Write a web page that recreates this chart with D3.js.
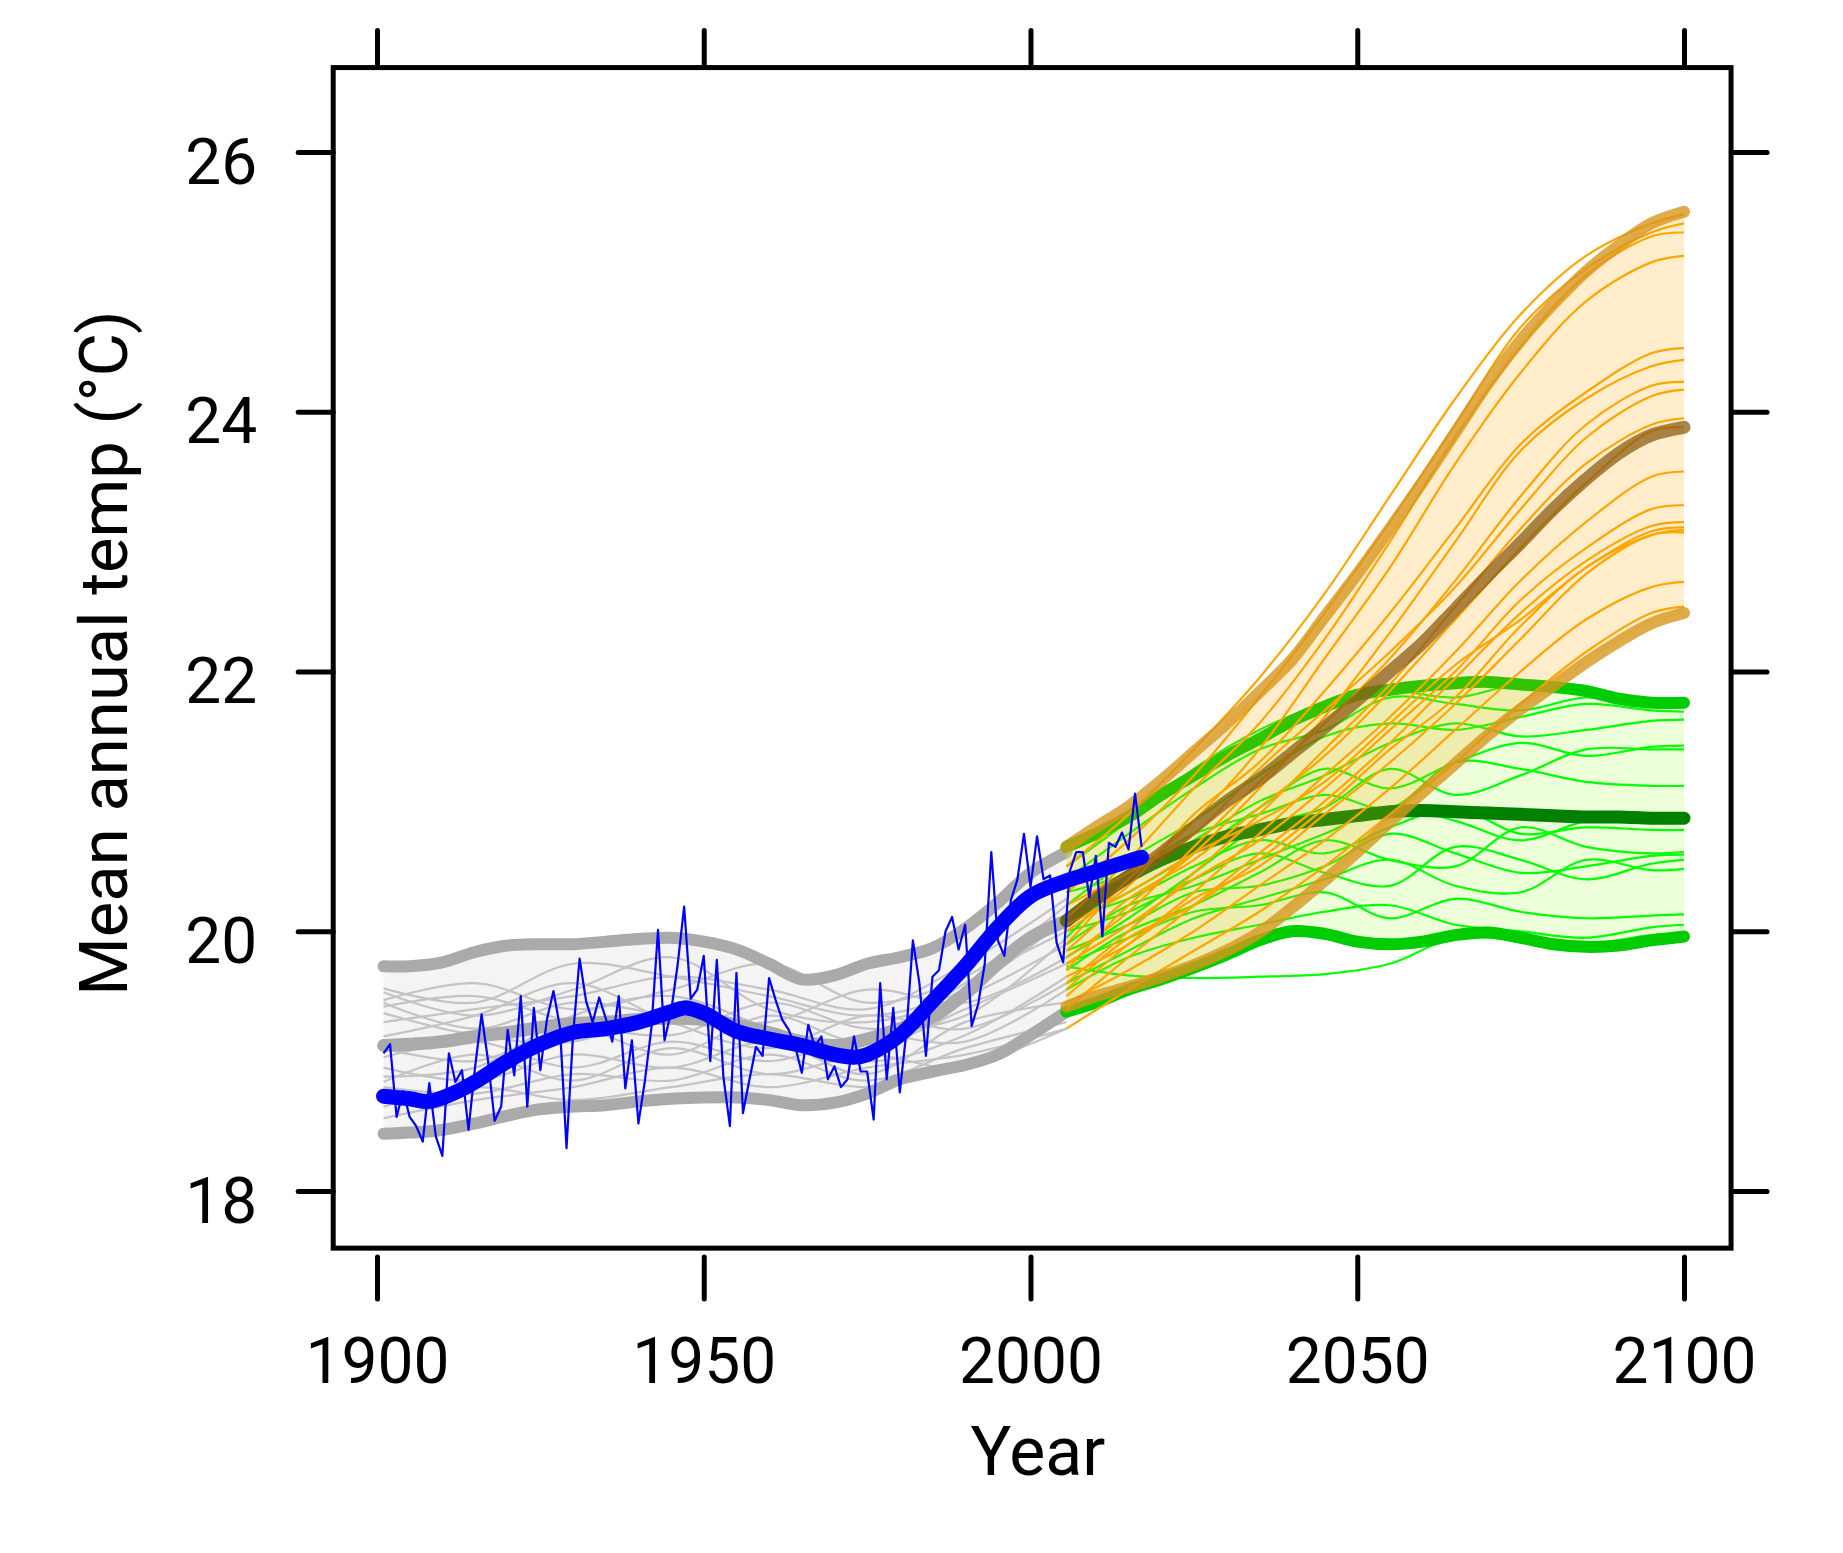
<!DOCTYPE html>
<html><head><meta charset="utf-8">
<script src="https://cdn.jsdelivr.net/npm/d3@7"></script>
<style>
body{margin:0;background:#fff}
svg{display:block}
text{font-family:Roboto,"Open Sans",sans-serif;fill:#000}
</style>
</head><body>
<svg id="chart" width="1843" height="1553"></svg>
<script>
// ---------- DATA ----------
const xTicks = [1900, 1950, 2000, 2050, 2100];
const yTicks = [18, 20, 22, 24, 26];
const xLabel = "Year";
const yLabel = "Mean annual temp (°C)";

// historical model envelope (grey)
const histYears = [1901,1905,1910,1915,1920,1925,1930,1935,1940,1945,1950,1955,1960,1965,1970,1975,1980,1985,1990,1995,2000,2005.5];
const greyUpper  = [19.73,19.73,19.76,19.84,19.89,19.90,19.90,19.92,19.94,19.95,19.92,19.86,19.75,19.63,19.66,19.75,19.80,19.87,20.02,20.22,20.45,20.61];
const greyMedian = [19.12,19.13,19.15,19.19,19.22,19.26,19.29,19.30,19.32,19.33,19.32,19.28,19.22,19.15,19.12,19.17,19.25,19.34,19.52,19.75,19.95,20.08];
const greyLower  = [18.44,18.45,18.47,18.52,18.58,18.63,18.65,18.66,18.69,18.71,18.72,18.72,18.70,18.66,18.68,18.75,18.86,18.92,18.97,19.05,19.20,19.38];

// individual historical model runs (thin grey)
const histRunYears = [1901,1915,1930,1945,1960,1975,1990,2005.5];
const greyRuns = [
  [19.56,19.45,19.75,19.65,19.50,19.35,19.55,20.10],
  [19.53,19.35,19.55,19.80,19.40,19.30,19.50,19.90],
  [19.47,19.60,19.40,19.55,19.75,19.45,19.65,20.20],
  [19.45,19.25,19.45,19.35,19.30,19.55,19.45,19.80],
  [19.42,19.50,19.30,19.20,19.45,19.25,19.35,19.95],
  [19.37,19.20,19.15,19.40,19.20,19.10,19.40,19.75],
  [19.19,19.35,19.60,19.30,19.10,19.35,19.25,19.60],
  [19.10,19.00,19.25,19.05,19.35,19.15,19.60,20.00],
  [19.03,19.15,18.95,19.15,19.00,19.20,19.15,19.55],
  [18.95,18.85,19.05,18.95,19.15,18.90,19.30,19.45],
  [18.84,19.05,18.85,19.10,18.90,19.05,18.95,19.35],
  [18.80,18.75,18.90,18.85,19.05,18.85,19.10,19.30],
  [18.56,18.70,18.80,18.95,18.80,18.95,19.05,19.25],
  [18.88,18.95,19.35,19.50,19.25,19.00,19.20,19.65],
  [19.30,19.40,19.50,19.65,19.55,19.40,19.75,20.25],
  [18.65,18.80,18.70,18.80,18.90,18.80,18.95,19.25]
];

// observations
const obsYears = d3.range(1901, 2018);
const obsTemp = [19.06,19.13,18.57,18.77,18.57,18.50,18.38,18.83,18.42,18.27,
  19.06,18.84,18.93,18.47,18.95,19.36,19.00,18.54,18.65,19.24,
  18.89,19.50,18.65,19.41,18.93,19.32,19.54,19.26,18.33,19.20,
  19.79,19.46,19.30,19.49,19.33,19.15,19.50,18.79,19.16,18.52,
  18.85,19.26,20.01,19.16,19.38,19.74,20.19,19.48,19.55,19.81,
  19.00,19.78,18.88,18.50,19.68,18.60,18.86,19.11,19.04,19.64,
  19.47,19.32,19.24,19.11,18.91,19.28,19.11,19.19,18.86,18.96,
  18.80,18.86,19.19,18.92,18.92,18.55,19.60,18.86,19.41,18.76,
  19.22,19.93,19.60,19.04,19.65,19.70,20.00,20.11,19.86,20.05,
  19.27,19.44,19.75,20.61,19.93,19.81,20.24,20.40,20.75,20.34,
  20.73,20.40,20.43,19.91,19.76,20.46,20.61,20.61,20.26,20.58,
  19.96,20.68,20.65,20.76,20.63,21.06,20.65];
const obsSmoothYears = [1901,1905,1908,1912,1915,1920,1925,1930,1935,1940,1945,1947,1950,1955,1960,1965,1970,1973,1975,1980,1985,1990,1995,2000,2005,2010,2015,2017];
const obsSmooth = [18.73,18.71,18.69,18.76,18.84,19.00,19.13,19.22,19.25,19.30,19.38,19.41,19.37,19.23,19.17,19.12,19.05,19.03,19.05,19.20,19.46,19.73,20.03,20.27,20.38,20.46,20.54,20.57];

// projections
const projYears = [2005.5,2010,2015,2020,2025,2030,2035,2040,2045,2050,2055,2060,2065,2070,2075,2080,2085,2090,2095,2100];
const rcp85Upper  = [20.65,20.80,20.96,21.16,21.38,21.60,21.84,22.09,22.42,22.75,23.10,23.46,23.84,24.22,24.55,24.83,25.08,25.28,25.45,25.54];
const rcp85Median = [20.08,20.25,20.42,20.60,20.80,21.00,21.17,21.37,21.57,21.78,22.00,22.22,22.48,22.74,22.99,23.25,23.48,23.68,23.82,23.88];
const rcp85Lower  = [19.42,19.50,19.57,19.65,19.74,19.85,19.99,20.18,20.39,20.61,20.84,21.07,21.29,21.51,21.71,21.89,22.07,22.23,22.37,22.45];
const rcp45Upper  = [20.65,20.75,20.88,21.05,21.20,21.35,21.48,21.62,21.73,21.82,21.86,21.89,21.91,21.92,21.90,21.88,21.85,21.79,21.76,21.76];
const rcp45Median = [20.08,20.25,20.42,20.55,20.65,20.73,20.78,20.83,20.86,20.89,20.92,20.93,20.92,20.91,20.90,20.89,20.88,20.88,20.87,20.87];
const rcp45Lower  = [19.38,19.45,19.55,19.63,19.72,19.82,19.93,20.00,19.98,19.92,19.90,19.92,19.97,19.99,19.95,19.90,19.88,19.89,19.93,19.96];

const projRunYears = [2005.5,2015,2025,2035,2045,2055,2065,2075,2085,2095,2100];
const rcp45Runs = [
  [20.40,20.75,21.10,21.40,21.55,21.80,21.75,21.70,21.80,21.75,21.73],
  [20.20,20.55,20.85,21.20,21.50,21.60,21.55,21.65,21.75,21.70,21.69],
  [19.95,20.40,20.70,21.00,21.20,21.45,21.60,21.50,21.55,21.62,21.63],
  [20.05,20.30,20.60,20.95,21.25,21.10,21.30,21.45,21.35,21.42,21.43],
  [19.80,20.10,20.45,20.80,20.95,21.25,21.05,21.20,21.40,21.40,21.40],
  [20.30,20.45,20.75,20.90,21.05,20.95,21.30,21.25,21.15,21.12,21.12],
  [19.90,20.20,20.35,20.55,20.75,20.95,20.85,20.70,20.85,20.90,20.90],
  [20.10,20.25,20.50,20.70,20.60,20.80,20.95,20.75,20.80,20.78,20.78],
  [19.70,20.00,20.20,20.45,20.70,20.55,20.50,20.80,20.65,20.60,20.61],
  [19.85,20.05,20.30,20.35,20.50,20.75,20.60,20.45,20.50,20.58,20.59],
  [20.00,20.15,20.40,20.60,20.45,20.35,20.65,20.55,20.40,20.52,20.55],
  [19.60,19.85,20.10,20.25,20.40,20.55,20.35,20.30,20.55,20.47,20.48],
  [19.75,19.95,20.15,20.20,20.30,20.10,20.25,20.15,20.10,20.12,20.13],
  [19.55,19.80,19.95,20.05,20.15,20.20,20.05,20.00,19.95,20.03,20.05],
  [19.73,19.66,19.64,19.65,19.67,19.75,19.95,19.93,19.90,19.97,19.98],
  [20.50,20.85,21.25,21.55,21.75,21.85,21.80,21.90,21.85,21.78,21.78]
];
const rcp85Runs = [
  [20.50,20.90,21.40,21.95,22.60,23.35,24.10,24.75,25.20,25.45,25.52],
  [20.30,20.70,21.20,21.80,22.45,23.15,23.90,24.65,25.10,25.38,25.45],
  [20.10,20.55,21.10,21.60,22.25,23.00,23.80,24.50,25.05,25.35,25.38],
  [19.90,20.40,20.85,21.40,22.10,22.80,23.60,24.30,24.85,25.15,25.20],
  [20.00,20.35,20.90,21.30,21.85,22.45,23.10,23.75,24.15,24.45,24.49],
  [19.70,20.20,20.60,21.10,21.65,22.30,23.00,23.70,24.10,24.35,24.40],
  [19.80,20.15,20.65,21.15,21.60,22.10,22.70,23.35,23.90,24.20,24.23],
  [20.20,20.45,20.75,21.25,21.70,22.15,22.65,23.25,23.80,24.12,24.17],
  [19.60,20.00,20.45,20.90,21.40,21.90,22.50,23.10,23.60,23.90,23.95],
  [19.85,20.25,20.55,20.95,21.35,21.85,22.40,22.95,23.45,23.85,23.88],
  [19.50,19.90,20.30,20.75,21.20,21.65,22.15,22.70,23.15,23.50,23.54],
  [19.75,20.05,20.40,20.70,21.10,21.55,22.00,22.55,22.95,23.25,23.28],
  [19.40,19.80,20.20,20.60,21.00,21.45,21.95,22.45,22.85,23.12,23.15],
  [20.05,20.30,20.60,20.85,21.15,21.60,22.05,22.40,22.80,23.08,23.11],
  [19.55,19.95,20.20,20.55,20.95,21.40,21.80,22.35,22.80,23.05,23.09],
  [19.65,19.90,20.25,20.50,20.90,21.30,21.75,22.25,22.75,23.05,23.07],
  [19.45,19.70,20.00,20.35,20.70,21.10,21.55,22.00,22.40,22.65,22.69],
  [19.25,19.55,19.85,20.15,20.50,20.90,21.30,21.75,22.15,22.45,22.50]
];

// ---------- DRAWING ----------
const svg = d3.select('#chart');
svg.append('rect').attr('width',1843).attr('height',1553).attr('fill','#fff');

const x = d3.scaleLinear().domain([1900, 2100]).range([377, 1684]);
const y = d3.scaleLinear().domain([18, 26]).range([1191, 152]);
const xLim = [1893.3, 2107.2], yLim = [17.56, 26.65];
const bx0 = x(xLim[0]), bx1 = x(xLim[1]), by0 = y(yLim[1]), by1 = y(yLim[0]);

const smooth = d3.curveCatmullRom.alpha(0.5);
const lineFor = (yrs, curve) => d3.line().x((d, i) => x(yrs[i])).y(d => y(d)).curve(curve || smooth);
const areaFor = (yrs, lo) => d3.area().x((d, i) => x(yrs[i])).y0((d, i) => y(lo[i])).y1(d => y(d)).curve(smooth);

const plot = svg.append('g');

function drawEnvelope(yrs, lo, mid, hi, runYrs, runs, st) {
  plot.append('path').attr('d', areaFor(yrs, lo)(hi))
    .attr('fill', st.fill).attr('fill-opacity', st.fillOpacity).attr('stroke', 'none');
  const thin = lineFor(runYrs);
  plot.append('g').selectAll('path').data(runs).join('path')
    .attr('d', d => thin(d)).attr('fill', 'none')
    .attr('stroke', st.thin).attr('stroke-width', 2.2);
  const thick = lineFor(yrs);
  [lo, hi].forEach(v => plot.append('path').attr('d', thick(v)).attr('fill', 'none')
    .attr('stroke', st.bound).attr('stroke-opacity', st.boundOpacity)
    .attr('stroke-width', 12).attr('stroke-linecap', 'round').attr('stroke-linejoin', 'round'));
  plot.append('path').attr('d', thick(mid)).attr('fill', 'none')
    .attr('stroke', st.median).attr('stroke-opacity', st.medianOpacity)
    .attr('stroke-width', 13).attr('stroke-linecap', 'round').attr('stroke-linejoin', 'round');
}

drawEnvelope(histYears, greyLower, greyMedian, greyUpper, histRunYears, greyRuns,
  {fill:'#f4f4f4', fillOpacity:1, thin:'#c4c4c4', bound:'#aaaaaa', boundOpacity:1, median:'#aaaaaa', medianOpacity:1});
drawEnvelope(projYears, rcp45Lower, rcp45Median, rcp45Upper, projRunYears, rcp45Runs,
  {fill:'#c0ff80', fillOpacity:0.3, thin:'#00ff00', bound:'#00cc00', boundOpacity:1, median:'#008000', medianOpacity:1});
drawEnvelope(projYears, rcp85Lower, rcp85Median, rcp85Upper, projRunYears, rcp85Runs,
  {fill:'#ffa500', fillOpacity:0.2, thin:'#ffa500', bound:'#d8961e', boundOpacity:0.8, median:'#8c5c14', medianOpacity:0.75});

plot.append('path').attr('d', lineFor(obsYears, d3.curveLinear)(obsTemp))
  .attr('fill', 'none').attr('stroke', '#0000ff').attr('stroke-width', 2.2).attr('stroke-linejoin', 'round');
plot.append('path').attr('d', lineFor(obsSmoothYears)(obsSmooth))
  .attr('fill', 'none').attr('stroke', '#0000ff').attr('stroke-width', 15)
  .attr('stroke-linecap', 'round').attr('stroke-linejoin', 'round');

// ---------- AXES ----------
const styleAxis = g => {
  g.select('.domain').remove();
  g.selectAll('.tick line').attr('stroke', '#000').attr('stroke-width', 5).attr('stroke-linecap', 'round');
};
svg.append('g').attr('transform', `translate(0,${by0})`)
  .call(d3.axisTop(x).tickValues(xTicks).tickSize(37).tickFormat(''))
  .call(styleAxis);
const xb = svg.append('g').attr('transform', 'translate(0,1257)')
  .call(d3.axisBottom(x).tickValues(xTicks).tickSize(42).tickFormat(d3.format('d')))
  .call(styleAxis);
xb.selectAll('.tick text').attr('y', 126).attr('dy', 0)
  .attr('font-size', 64).attr('font-family', 'Roboto, "Open Sans", sans-serif').attr('fill', '#000');

const yl = svg.append('g').attr('transform', `translate(${bx0},0)`)
  .call(d3.axisLeft(y).tickValues(yTicks).tickSize(35).tickFormat(d3.format('d')))
  .call(styleAxis);
yl.selectAll('.tick text').attr('x', -76).attr('dy', 0).attr('y', 31)
  .attr('font-size', 64).attr('font-family', 'Roboto, "Open Sans", sans-serif').attr('fill', '#000');
svg.append('g').attr('transform', `translate(${bx1 + 2},0)`)
  .call(d3.axisRight(y).tickValues(yTicks).tickSize(34).tickFormat(''))
  .call(styleAxis);

svg.append('rect').attr('x', bx0).attr('y', by0).attr('width', bx1 - bx0).attr('height', by1 - by0)
  .attr('fill', 'none').attr('stroke', '#000').attr('stroke-width', 5);

svg.append('text').attr('x', 1038).attr('y', 1475).attr('text-anchor', 'middle')
  .attr('font-size', 68).text(xLabel);
svg.append('text').attr('transform', 'translate(127,653) rotate(-90)').attr('text-anchor', 'middle')
  .attr('font-size', 67).text(yLabel);
</script>
</body></html>
